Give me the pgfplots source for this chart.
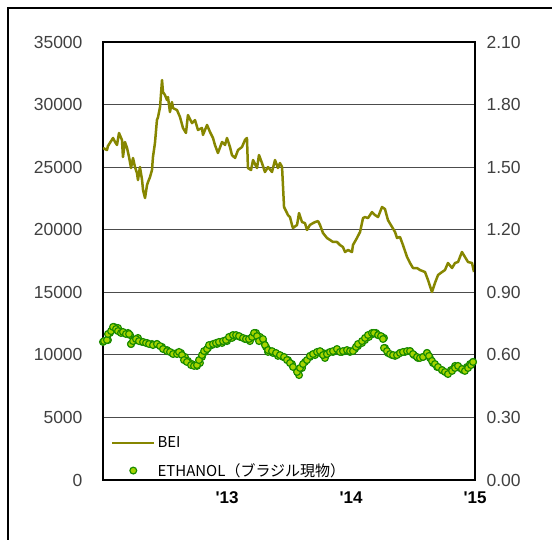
\documentclass[border=0pt]{standalone}
\usepackage{fontspec}
\setmainfont{Liberation Sans}
\newfontfamily\cjk{Noto Sans CJK JP}
\usepackage{pgfplots}
\usepackage{pgfplotstable}
\pgfplotsset{compat=1.18}
\definecolor{beiolive}{RGB}{134,134,0}
\definecolor{ethfill}{RGB}{165,212,0}
\definecolor{ethedge}{RGB}{28,140,0}
\pgfplotsset{
  linelegend/.style={legend image code/.code={\draw[##1] (0pt,0pt) -- (42pt,0pt);}},
  dotlegend/.style={legend image code/.code={\draw[##1] plot coordinates {(21pt,0pt)};}},
}

\pgfplotstableread{
t v
2012.000 26530
2012.032 26370
2012.040 26690
2012.081 27330
2012.097 27010
2012.113 26770
2012.129 27730
2012.153 27170
2012.161 25810
2012.177 27010
2012.194 26530
2012.210 25810
2012.226 24930
2012.242 25730
2012.258 25010
2012.274 24530
2012.282 23970
2012.298 25010
2012.315 23970
2012.323 23170
2012.339 22530
2012.355 23570
2012.363 23810
2012.379 24210
2012.395 24770
2012.403 25810
2012.419 26930
2012.435 28760
2012.444 29000
2012.460 29800
2012.476 31960
2012.484 31000
2012.500 30760
2012.516 30360
2012.524 30600
2012.540 29400
2012.556 30200
2012.565 29720
2012.597 29560
2012.621 29000
2012.645 28130
2012.669 27730
2012.685 29160
2012.718 28520
2012.742 28760
2012.766 27970
2012.798 28130
2012.806 27570
2012.839 28370
2012.863 27810
2012.887 27330
2012.903 26770
2012.927 26130
2012.960 27010
2012.984 26770
2013.000 27330
2013.024 26610
2013.040 25970
2013.065 25730
2013.089 26370
2013.121 26610
2013.145 27170
2013.161 27330
2013.169 24930
2013.194 24770
2013.210 25570
2013.242 24930
2013.258 25970
2013.282 25330
2013.306 24610
2013.331 25010
2013.363 24610
2013.387 25570
2013.411 24930
2013.427 25330
2013.444 25010
2013.460 21810
2013.492 21170
2013.508 21010
2013.524 20380
2013.532 20140
2013.565 20380
2013.581 21330
2013.605 20610
2013.629 20530
2013.645 19980
2013.669 20380
2013.694 20530
2013.710 20610
2013.734 20690
2013.750 20380
2013.774 19740
2013.806 19340
2013.831 19180
2013.855 19020
2013.887 19020
2013.911 18780
2013.935 18620
2013.952 18220
2013.976 18380
2014.008 18220
2014.016 18780
2014.048 19340
2014.073 19820
2014.097 20930
2014.113 21010
2014.137 20930
2014.169 21410
2014.194 21170
2014.218 21010
2014.250 21810
2014.274 21650
2014.298 20770
2014.331 20220
2014.355 19820
2014.371 19340
2014.395 19420
2014.419 18780
2014.452 17820
2014.476 17340
2014.500 16940
2014.532 16940
2014.556 16780
2014.597 16620
2014.621 15980
2014.653 15020
2014.677 15740
2014.702 16380
2014.734 16620
2014.758 16780
2014.782 17340
2014.815 16940
2014.839 17340
2014.863 17420
2014.895 18220
2014.919 17820
2014.944 17420
2014.976 17340
2014.992 16620
}\bei

\pgfplotstableread{
t v
2012.000 0.662
2012.040 0.671
2012.056 0.705
2012.073 0.719
2012.089 0.734
2012.121 0.729
2012.145 0.710
2012.169 0.705
2012.202 0.705
2012.218 0.695
2012.226 0.652
2012.250 0.671
2012.282 0.681
2012.315 0.662
2012.355 0.657
2012.395 0.652
2012.435 0.652
2012.476 0.638
2012.516 0.623
2012.556 0.609
2012.597 0.609
2012.629 0.609
2012.661 0.590
2012.685 0.571
2012.718 0.556
2012.758 0.547
2012.782 0.561
2012.798 0.590
2012.823 0.614
2012.847 0.633
2012.879 0.647
2012.919 0.652
2012.960 0.657
2013.000 0.666
2013.040 0.681
2013.065 0.690
2013.105 0.686
2013.145 0.676
2013.185 0.666
2013.210 0.686
2013.234 0.705
2013.266 0.686
2013.290 0.666
2013.315 0.638
2013.331 0.614
2013.371 0.609
2013.411 0.595
2013.452 0.590
2013.492 0.575
2013.524 0.556
2013.565 0.527
2013.581 0.503
2013.605 0.537
2013.629 0.566
2013.669 0.590
2013.710 0.599
2013.750 0.609
2013.774 0.609
2013.790 0.585
2013.815 0.609
2013.855 0.614
2013.887 0.623
2013.927 0.614
2013.952 0.618
2013.992 0.614
2014.032 0.628
2014.056 0.642
2014.089 0.657
2014.113 0.671
2014.145 0.686
2014.177 0.700
2014.202 0.705
2014.218 0.695
2014.250 0.686
2014.266 0.681
2014.274 0.633
2014.298 0.609
2014.331 0.599
2014.355 0.595
2014.395 0.609
2014.435 0.614
2014.476 0.618
2014.508 0.599
2014.540 0.585
2014.581 0.590
2014.613 0.609
2014.637 0.585
2014.661 0.561
2014.694 0.542
2014.734 0.527
2014.774 0.513
2014.806 0.527
2014.839 0.547
2014.879 0.537
2014.903 0.527
2014.935 0.542
2014.960 0.556
2014.984 0.566
2012.008 0.666
2012.032 0.671
2012.040 0.700
2012.065 0.714
2012.081 0.734
2012.105 0.724
2012.121 0.714
2012.145 0.705
2012.161 0.710
2012.185 0.700
2012.210 0.700
2012.226 0.652
2012.242 0.666
2012.266 0.676
2012.290 0.666
2012.323 0.662
2012.347 0.657
2012.371 0.652
2012.403 0.647
2012.435 0.652
2012.460 0.642
2012.484 0.628
2012.516 0.618
2012.540 0.614
2012.565 0.604
2012.597 0.604
2012.613 0.614
2012.637 0.599
2012.653 0.575
2012.677 0.566
2012.710 0.551
2012.734 0.547
2012.758 0.551
2012.774 0.575
2012.798 0.599
2012.815 0.618
2012.839 0.628
2012.855 0.647
2012.887 0.652
2012.911 0.657
2012.935 0.662
2012.968 0.666
2012.992 0.671
2013.016 0.686
2013.048 0.695
2013.073 0.695
2013.097 0.690
2013.129 0.681
2013.153 0.676
2013.177 0.676
2013.202 0.686
2013.218 0.705
2013.242 0.690
2013.258 0.666
2013.290 0.676
2013.306 0.647
2013.331 0.623
2013.363 0.618
2013.395 0.609
2013.427 0.599
2013.460 0.590
2013.484 0.575
2013.508 0.561
2013.532 0.542
2013.565 0.518
2013.589 0.537
2013.613 0.556
2013.645 0.575
2013.669 0.595
2013.694 0.604
2013.726 0.614
2013.750 0.618
2013.774 0.599
2013.806 0.604
2013.831 0.614
2013.855 0.618
2013.887 0.628
2013.911 0.614
2013.935 0.618
2013.968 0.623
2013.992 0.618
2014.016 0.618
2014.040 0.638
2014.056 0.652
2014.089 0.666
2014.113 0.681
2014.137 0.695
2014.169 0.705
2014.185 0.705
2014.218 0.695
2014.242 0.690
2014.258 0.676
2014.266 0.633
2014.290 0.618
2014.315 0.604
2014.339 0.599
2014.371 0.599
2014.395 0.609
2014.419 0.614
2014.452 0.618
2014.476 0.618
2014.500 0.604
2014.532 0.590
2014.556 0.585
2014.581 0.590
2014.613 0.609
2014.629 0.595
2014.653 0.571
2014.677 0.556
2014.702 0.542
2014.734 0.527
2014.758 0.518
2014.782 0.508
2014.815 0.523
2014.839 0.537
2014.863 0.547
2014.895 0.532
2014.919 0.523
2014.944 0.537
2014.968 0.551
2014.984 0.566
}\eth

\begin{document}
\begin{tikzpicture}[x=1pt,y=1pt]
\useasboundingbox (0,0) rectangle (552,-540);
\draw[line width=2pt] (8,-560) -- (8,-8) -- (570,-8);

\pgfplotsset{
  common/.style={
    scale only axis, width=372pt, height=438pt,
    at={(103pt,-480pt)}, anchor=south west,
    xmin=2012, xmax=2015,
    major tick length=0pt,
    scaled ticks=false,
    /pgf/number format/assume math mode=true,
    ticklabel style={font=\fontsize{17.5}{20}\selectfont, text=black!75},
  }
}

\begin{axis}[common,
  ymin=0, ymax=35000,
  ytick={0,5000,10000,15000,20000,25000,30000,35000},
  yticklabel style={xshift=-17pt, /pgf/number format/fixed, /pgf/number format/1000 sep={}},
  xtick={2013,2014,2015},
  xticklabels={\textquotesingle13,\textquotesingle14,\textquotesingle15},
  xticklabel style={yshift=-8pt, text=black, font=\bfseries\fontsize{17}{20}\selectfont},
  ymajorgrids,
  grid style={black!70, line width=1.1pt},
  axis line style={black, line width=1.3pt},
]
\addplot[beiolive, line width=2.5pt, line join=round] table[x=t, y=v] {\bei};
\end{axis}

\begin{axis}[common,
  axis y line*=right, axis x line=none,
  ymin=0, ymax=2.1,
  ytick={0,0.3,0.6,0.9,1.2,1.5,1.8,2.1},
  yticklabel style={xshift=8pt, /pgf/number format/fixed, /pgf/number format/fixed zerofill, /pgf/number format/precision=2},
  axis line style={black, line width=1.3pt},
  legend style={at={(0.013,0.108)}, anchor=north west, draw=none, fill=none,
    font=\cjk\fontsize{15}{17}\selectfont, row sep=10pt,
    /tikz/every even column/.append style={column sep=2pt}},
  legend cell align=left,
]
\addlegendimage{beiolive, line width=2.5pt, linelegend}
\addlegendentry{BEI}
\addplot[only marks, mark=*, mark size=3.4pt, mark options={fill=ethfill, draw=ethedge, line width=1.2pt},
  dotlegend] table[x=t, y=v] {\eth};
\addlegendentry{ETHANOL（ブラジル現物）}
\end{axis}
\end{tikzpicture}
\end{document}
